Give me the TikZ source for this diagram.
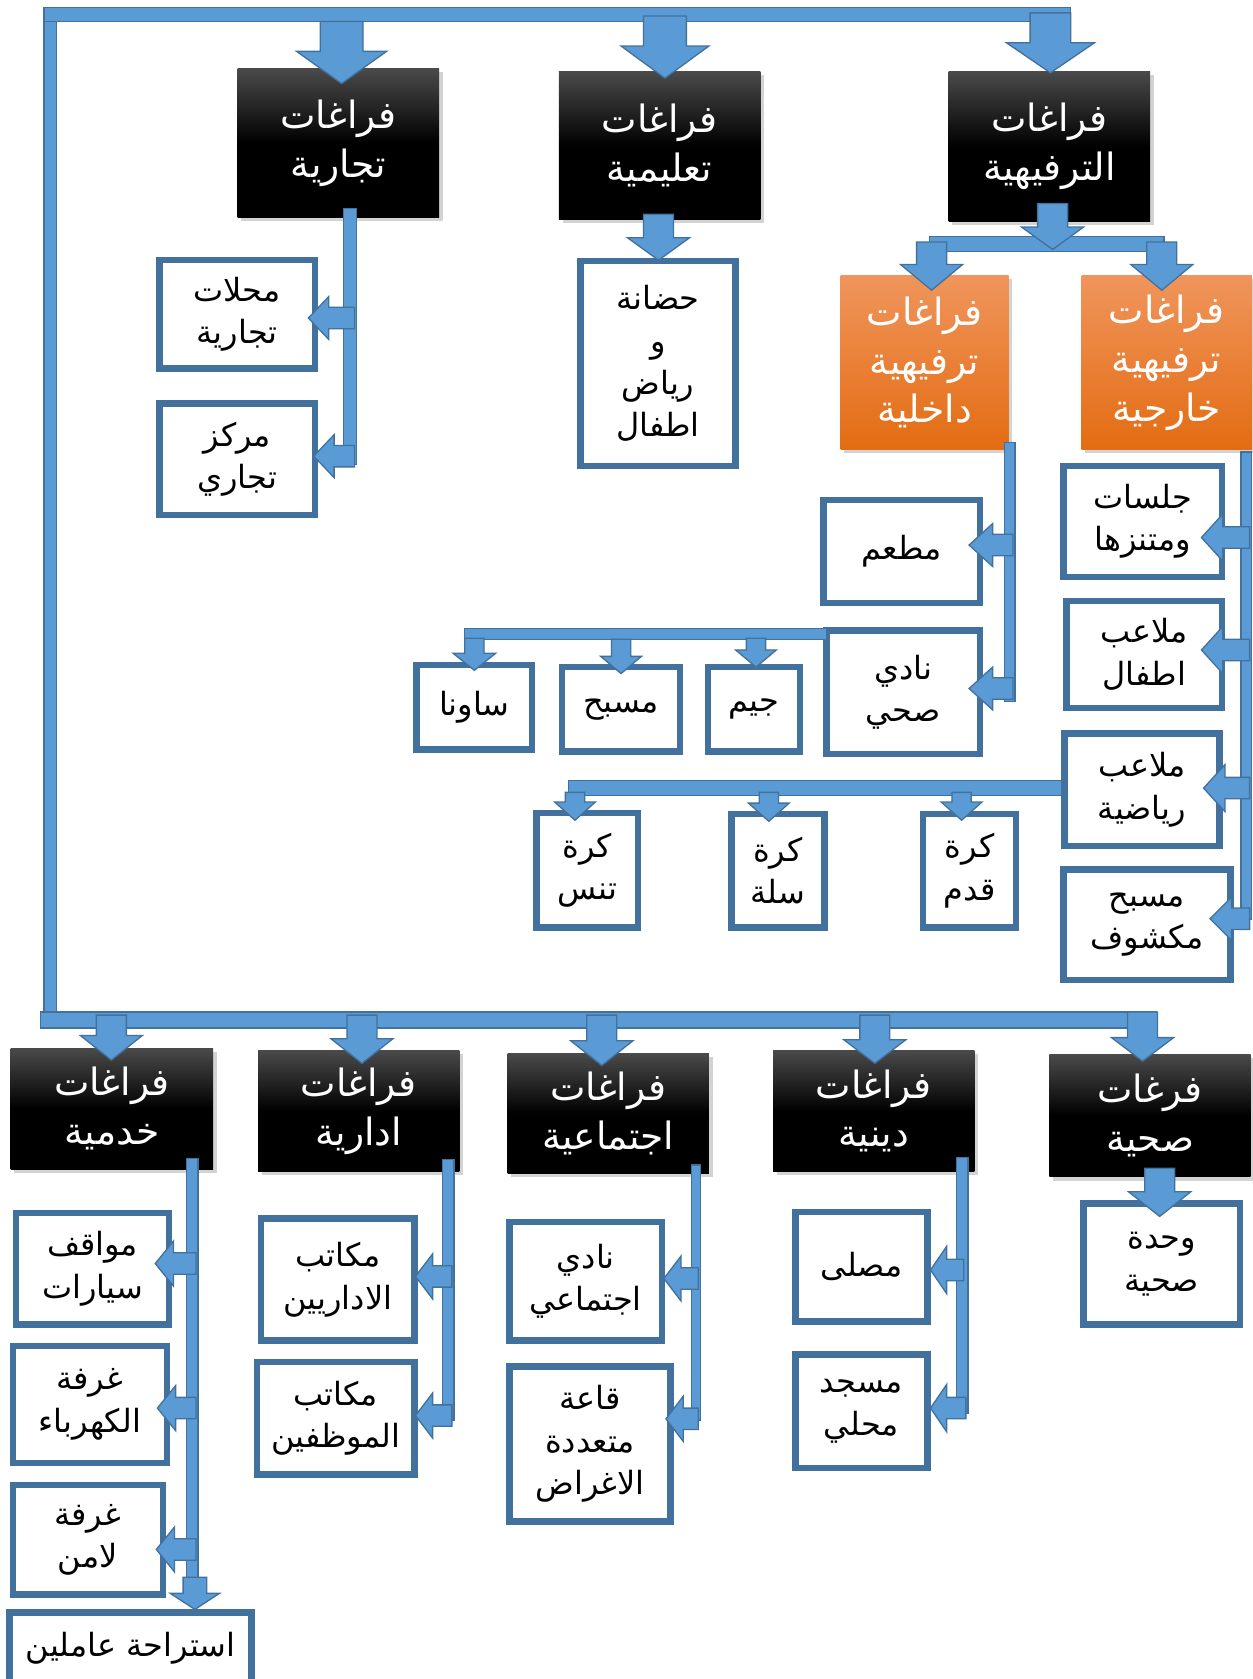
\documentclass[tikz,border=0pt]{standalone}
\usepackage{fontspec}
\newfontfamily\arabicfont[Script=Arabic]{DejaVu Sans}
\TeXXeTstate=1
\usetikzlibrary{shadows}
\definecolor{arrf}{HTML}{5B9BD5}
\definecolor{arrd}{HTML}{41719C}
\definecolor{boxc}{HTML}{41719C}
\definecolor{orT}{HTML}{F0955C}
\definecolor{orB}{HTML}{E36C12}
\definecolor{bkT}{HTML}{4A4A4A}
\newcommand\AR[1]{\beginR #1\endR}
\tikzset{
 arr/.style={fill=arrf, draw=arrd, line width=0.7pt},
 wbox/.style={draw=boxc, line width=0.12cm, fill=white, align=center, inner sep=0pt, text=black, font=\arabicfont\fontsize{17}{22.5}\selectfont},
 hdr/.style={align=center, inner sep=0pt, text=white, font=\arabicfont\fontsize{20}{26}\selectfont, drop shadow={shadow xshift=0.07cm, shadow yshift=-0.07cm, opacity=0.35}},
 bbox/.style={hdr, top color=bkT, bottom color=black, middle color=black},
 obox/.style={hdr, top color=orT, bottom color=orB},
}
\newcommand\wnode[6]{\node[wbox, minimum width={(#4-#2-6)*0.02cm}, minimum height={(#5-#3-6)*0.02cm}] (#1) at ({(#2+#4)/2},{(#3+#5)/2}) {#6};}
\newcommand\hnode[7]{\node[#1, minimum width={(#5-#3)*0.02cm}, minimum height={(#6-#4)*0.02cm}] (#2) at ({(#3+#5)/2},{(#4+#6)/2}) {#7};}
\newcommand\arD[6]{\filldraw[arr] ({#1-#4},#2) -- ({#1+#4},#2) -- ({#1+#4},{#3-#6}) -- ({#1+#5},{#3-#6}) -- (#1,#3) -- ({#1-#5},{#3-#6}) -- ({#1-#4},{#3-#6}) -- cycle;}
\newcommand\arL[6]{\filldraw[arr] (#1,{#2-#4}) -- ({#3+#6},{#2-#4}) -- ({#3+#6},{#2-#5}) -- (#3,#2) -- ({#3+#6},{#2+#5}) -- ({#3+#6},{#2+#4}) -- (#1,{#2+#4}) -- cycle;}
\begin{document}
\begin{tikzpicture}[x=0.02cm,y=-0.02cm]
\useasboundingbox (0,0) rectangle (1170,1568);
% top header boxes
\hnode{bbox}{b1}{222}{64}{410}{203}{\AR{فراغات}\\\AR{تجارية}}
\hnode{bbox}{b2}{522}{67}{710}{205}{\AR{فراغات}\\\AR{تعليمية}}
\hnode{bbox}{b3}{886}{67}{1074}{207}{\AR{فراغات}\\\AR{الترفيهية}}
\hnode{obox}{o1}{785}{257}{942}{420}{\AR{فراغات}\\\AR{ترفيهية}\\\AR{داخلية}}
\hnode{obox}{o2}{1010}{257}{1169}{420}{\AR{فراغات}\\\AR{ترفيهية}\\\AR{خارجية}}
\wnode{w1}{146}{240}{297}{347}{\AR{محلات}\\\AR{تجارية}}
\wnode{w2}{146}{374}{297}{484}{\AR{مركز}\\\AR{تجاري}}
\wnode{w3}{539}{241}{690}{438}{\AR{حضانة}\\\AR{و}\\\AR{رياض}\\\AR{اطفال}}
\wnode{mt}{766}{464}{918}{566}{\AR{مطعم}}
\wnode{ns}{769}{586}{918}{707}{\AR{نادي}\\\AR{صحي}}
\wnode{sa}{386}{618}{500}{703}{\AR{ساونا}}
\wnode{ms}{522}{620}{638}{705}{\AR{مسبح}}
\wnode{jm}{658}{620}{750}{705}{\AR{جيم}}
\wnode{jl}{990}{432}{1144}{542}{\AR{جلسات}\\\AR{ومتنزها}}
\wnode{ma}{993}{558}{1144}{664}{\AR{ملاعب}\\\AR{اطفال}}
\wnode{mr}{991}{682}{1142}{793}{\AR{ملاعب}\\\AR{رياضية}}
\wnode{mk}{990}{809}{1152}{918}{\AR{مسبح}\\\AR{مكشوف}}
\wnode{kt}{498}{756}{599}{869}{\AR{كرة}\\\AR{تنس}}
\wnode{ks}{680}{757}{773}{869}{\AR{كرة}\\\AR{سلة}}
\wnode{kq}{859}{757}{952}{869}{\AR{كرة}\\\AR{قدم}}
% bottom header boxes
\hnode{bbox}{c1}{10}{979}{199}{1092}{\AR{فراغات}\\\AR{خدمية}}
\hnode{bbox}{c2}{241}{981}{429}{1094}{\AR{فراغات}\\\AR{ادارية}}
\hnode{bbox}{c3}{474}{984}{662}{1096}{\AR{فراغات}\\\AR{اجتماعية}}
\hnode{bbox}{c4}{722}{981}{910}{1094}{\AR{فراغات}\\\AR{دينية}}
\hnode{bbox}{c5}{980}{985}{1168}{1099}{\AR{فرغات}\\\AR{صحية}}
\wnode{s1}{12}{1130}{161}{1240}{\AR{مواقف}\\\AR{سيارات}}
\wnode{s2}{9}{1254}{159}{1369}{\AR{غرفة}\\\AR{الكهرباء}}
\wnode{s3}{9}{1384}{155}{1492}{\AR{غرفة}\\\AR{لامن}}
\wnode{s4}{6}{1503}{238}{1575}{\AR{استراحة عاملين}}
\wnode{d1}{241}{1135}{390}{1255}{\AR{مكاتب}\\\AR{الاداريين}}
\wnode{d2}{237}{1269}{390}{1380}{\AR{مكاتب}\\\AR{الموظفين}}
\wnode{e1}{473}{1138}{621}{1255}{\AR{نادي}\\\AR{اجتماعي}}
\wnode{e2}{473}{1273}{629}{1424}{\AR{قاعة}\\\AR{متعددة}\\\AR{الاغراض}}
\wnode{r1}{740}{1129}{869}{1237}{\AR{مصلى}}
\wnode{r2}{740}{1262}{869}{1374}{\AR{مسجد}\\\AR{محلي}}
\wnode{h1}{1009}{1121}{1161}{1240}{\AR{وحدة}\\\AR{صحية}}
% main bars
\filldraw[arr] (41,20) rectangle (53,947);
\filldraw[arr] (41,7) rectangle (1000,20);
\filldraw[arr] (38,945) rectangle (1080,960);
% top arrows
\arD{319}{20}{78}{20}{42}{30}
\arD{621}{15}{73}{20}{41}{30}
\arD{981}{12}{68}{19}{41}{28}
\arD{615}{200}{243}{14}{29}{21}
\filldraw[arr] (868,221) rectangle (1087,235);
\arD{983}{190}{233}{14}{29}{21}
\arD{870}{226}{271}{14}{29}{24}
\arD{1085}{226}{271}{14}{29}{24}
% commercial
\filldraw[arr] (321,195) rectangle (333,434);
\arL{331}{297}{288}{10}{20}{19}
\arL{331}{426}{293}{10}{20}{19}
% indoor
\filldraw[arr] (938,413) rectangle (948,655);
\arL{946}{509}{905}{10}{20}{22}
\arL{946}{643}{905}{10}{20}{22}
\filldraw[arr] (434,587) rectangle (772,597);
\arD{443}{596}{626}{9}{20}{16}
\arD{580}{597}{629}{9}{19}{16}
\arD{706}{596}{623}{9}{19}{16}
% outdoor
\filldraw[arr] (1159,422) rectangle (1169,859);
\arL{1167}{502}{1122}{10}{22}{20}
\arL{1167}{607}{1122}{10}{22}{20}
\arL{1167}{736}{1124}{10}{22}{20}
\arL{1167}{858}{1130}{10}{20}{20}
\filldraw[arr] (531,729) rectangle (991,743);
\arD{537}{740}{766}{9}{19}{17}
\arD{718}{740}{767}{9}{19}{17}
\arD{898}{740}{766}{9}{19}{17}
% bottom arrows
\arD{104}{948}{990}{14}{29}{23}
\arD{338}{948}{993}{14}{29}{23}
\arD{562}{948}{995}{14}{29}{23}
\arD{817}{948}{993}{14}{29}{22}
\arD{1067}{945}{991}{14}{29}{22}
% service
\filldraw[arr] (174,1082) rectangle (185,1475);
\arL{183}{1180}{145}{10}{21}{17}
\arL{183}{1315}{147}{10}{21}{17}
\arL{183}{1447}{146}{10}{21}{17}
\arD{182}{1473}{1503}{11}{23}{15}
% admin
\filldraw[arr] (413,1083) rectangle (424,1326);
\arL{422}{1192}{388}{10}{21}{16}
\arL{422}{1322}{388}{10}{21}{16}
% social
\filldraw[arr] (646,1088) rectangle (654,1326);
\arL{652}{1194}{620}{10}{21}{16}
\arL{652}{1325}{622}{10}{21}{16}
% religious
\filldraw[arr] (893,1081) rectangle (904,1320);
\arL{900}{1186}{869}{10}{22}{15}
\arL{902}{1315}{869}{10}{22}{15}
% health
\arD{1083}{1091}{1136}{14}{29}{23}
\end{tikzpicture}
\end{document}
